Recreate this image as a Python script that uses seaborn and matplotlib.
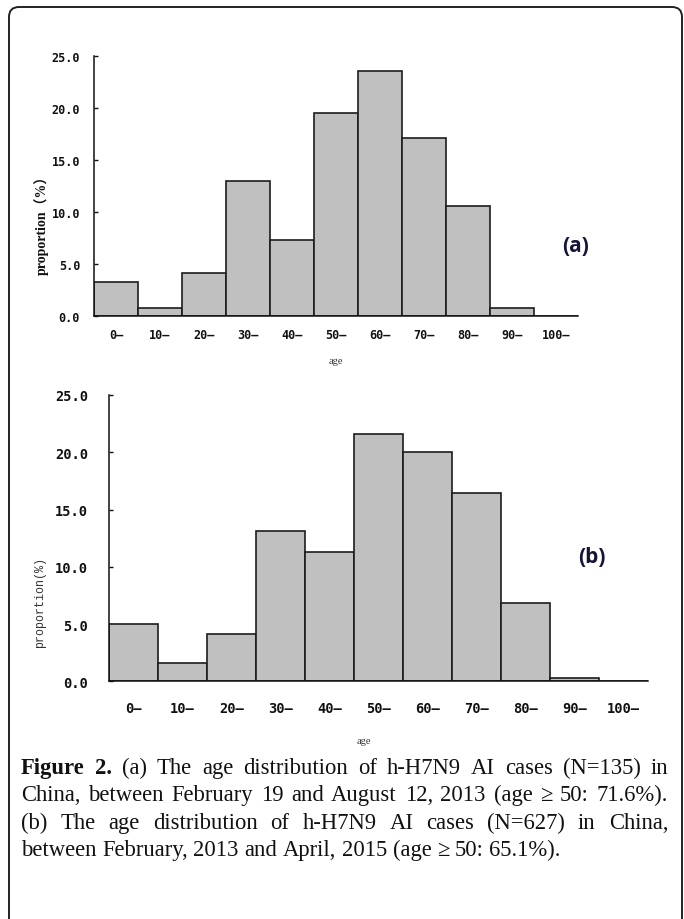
import numpy as np
import pandas as pd
import matplotlib
matplotlib.use("Agg")
import matplotlib.pyplot as plt
import seaborn as sns
from matplotlib.patches import FancyBboxPatch
from matplotlib.transforms import IdentityTransform

# ---------------- data ----------------
age_groups = ["0–", "10–", "20–", "30–", "40–", "50–", "60–", "70–", "80–", "90–", "100–"]
prop_a = [3.3, 0.8, 4.1, 13.0, 7.3, 19.5, 23.5, 17.1, 10.6, 0.8, 0.0]
prop_b = [5.0, 1.6, 4.1, 13.1, 11.3, 21.6, 20.0, 16.4, 6.8, 0.3, 0.0]
y_ticks = [0, 5, 10, 15, 20, 25]
y_tick_labels = ["0.0", "5.0", "10.0", "15.0", "20.0", "25.0"]
caption_lines = [
    [("Figure", True), ("2.", True), ("(a)", False), ("The", False), ("age", False),
     ("distribution", False), ("of", False), ("h-H7N9", False), ("AI", False),
     ("cases", False), ("(N=135)", False), ("in", False)],
    [(w, False) for w in "China, between February 19 and August 12, 2013 (age ≥ 50: 71.6%).".split(" ")],
    [(w, False) for w in "(b) The age distribution of h-H7N9 AI cases (N=627) in China,".split(" ")],
    [(w, False) for w in "between February, 2013 and April, 2015 (age ≥ 50: 65.1%).".split(" ")],
]

W, H = 684, 920
sns.set_style("white")
plt.rcParams["font.family"] = ["Liberation Serif", "DejaVu Serif"]
fig = plt.figure(figsize=(W / 100, H / 100), dpi=100)


def px_axes(left, right, top, bottom):
    return fig.add_axes([left / W, 1 - bottom / H, (right - left) / W, (bottom - top) / H])


def draw_panel(ax, values, tick_font, tick_size, tick_pad_y, tick_pad_x):
    df = pd.DataFrame({"age": age_groups, "proportion": values})
    sns.barplot(data=df, x="age", y="proportion", ax=ax, color="#c0c0c0",
                saturation=1, width=1.0, edgecolor="#1c1c1c", linewidth=1.2)
    ax.set_xlim(-0.5, len(age_groups) - 0.5)
    ax.set_ylim(0, 25)
    ax.set_yticks(y_ticks)
    ax.set_yticklabels(y_tick_labels)
    for s in ["top", "right"]:
        ax.spines[s].set_visible(False)
    for s in ["left", "bottom"]:
        ax.spines[s].set_color("#111111")
        ax.spines[s].set_linewidth(1.1)
    ax.tick_params(axis="y", direction="in", length=3, width=1, color="#111111",
                   pad=tick_pad_y, left=True)
    ax.tick_params(axis="x", length=0, pad=tick_pad_x)
    for lab in ax.get_xticklabels() + ax.get_yticklabels():
        lab.set_fontfamily(tick_font)
        lab.set_fontweight("bold")
        lab.set_fontsize(tick_size)
        lab.set_color("#111111")


# ---------------- panel (a) ----------------
ax_a = px_axes(94, 578, 56.7, 317)
draw_panel(ax_a, prop_a, "DejaVu Sans Mono", 8.5, 10, 9)
ax_a.set_ylabel("proportion（%）", family=["Liberation Serif", "Noto Sans CJK SC"],
                fontweight="bold", fontsize=10, color="#111111")
ax_a.yaxis.set_label_coords(-0.094, 0.365)
ax_a.set_xlabel("age", fontsize=7.5, color="#333333")
ax_a.xaxis.set_label_coords(0.5, -0.155)
ax_a.text(0.995, 0.27, "(a)", transform=ax_a.transAxes, ha="center", va="center",
          family="Open Sans", fontweight="bold", fontsize=15, color="#15153a")

# ---------------- panel (b) ----------------
ax_b = px_axes(109, 648, 396, 682.3)
draw_panel(ax_b, prop_b, "DejaVu Sans Mono", 9.8, 15, 14)
ax_b.set_ylabel("proportion(%)", family="Liberation Mono", fontsize=8.4, color="#333333")
ax_b.yaxis.set_label_coords(-0.116, 0.28)
ax_b.set_xlabel("age", fontsize=7.5, color="#333333")
ax_b.xaxis.set_label_coords(0.472, -0.19)
ax_b.text(0.895, 0.435, "(b)", transform=ax_b.transAxes, ha="center", va="center",
          family="Open Sans", fontweight="bold", fontsize=15, color="#15153a")

# ---------------- frame ----------------
frame = FancyBboxPatch((9, -30), 682 - 9, (H - 8) + 30, boxstyle="round,pad=0,rounding_size=10",
                       transform=IdentityTransform(), facecolor="none",
                       edgecolor="#222222", linewidth=1.4, zorder=0)
fig.add_artist(frame)

# ---------------- caption (justified) ----------------
fig.canvas.draw()
renderer = fig.canvas.get_renderer()
cap_size = 16.3
cap_family = ["Liberation Serif", "DejaVu Serif"]


def text_width(s, bold):
    t = fig.text(0, 0, s, fontsize=cap_size, family=cap_family,
                 fontweight="bold" if bold else "normal")
    w = t.get_window_extent(renderer).width
    t.remove()
    return w


space_w = text_width("x x", False) - 2 * text_width("x", False)
x_left, x_right = 21, 668
baselines = [774, 801.5, 829, 856.5]
for i, (line, base) in enumerate(zip(caption_lines, baselines)):
    widths = [text_width(w, b) for w, b in line]
    if i < len(caption_lines) - 1:
        gap = (x_right - x_left - sum(widths)) / (len(line) - 1)
    else:
        gap = space_w
    x = x_left
    for (word, bold), wdt in zip(line, widths):
        fig.text(x / W, 1 - base / H, word, fontsize=cap_size, family=cap_family,
                 fontweight="bold" if bold else "normal", color="#111111",
                 ha="left", va="baseline")
        x += wdt + gap

fig.savefig("out.png", dpi=100)
